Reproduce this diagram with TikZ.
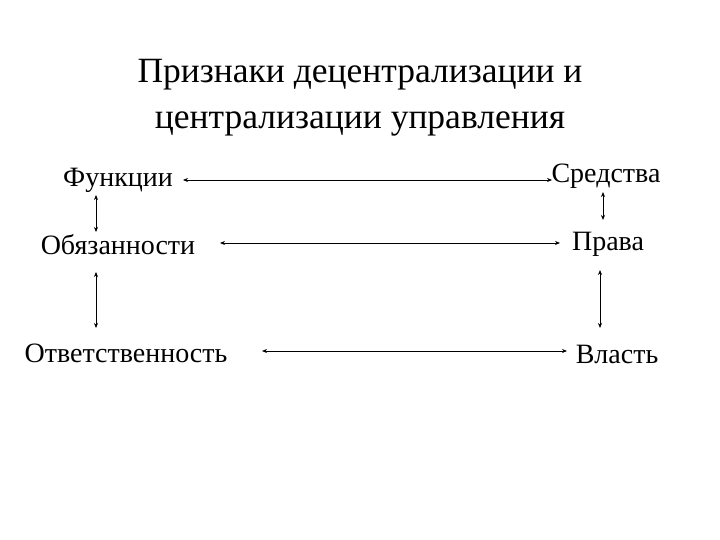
\documentclass[tikz,border=0pt]{standalone}
\usepackage{fontspec}
\setmainfont{Liberation Serif}
\usetikzlibrary{arrows.meta}
\begin{document}
\begin{tikzpicture}[x=1pt,y=-1pt,
  lbl/.style={font=\fontsize{28}{32}\selectfont,inner sep=2pt},
  conn/.style={{Stealth[length=5pt,width=4pt]}-{Stealth[length=5pt,width=4pt]},line width=0.8pt}]
\useasboundingbox[fill=white] (0,0) rectangle (720,540);
\node[font=\fontsize{35.5}{46}\selectfont,align=center] (title) at (360,98) {Признаки децентрализации и\\централизации управления};
\node[lbl] (f) at (118,180) {Функции};
\node[lbl] (s) at (606,176) {Средства};
\node[lbl] (o) at (118,245) {Обязанности};
\node[lbl] (p) at (608,244) {Права};
\node[lbl] (r) at (126,353) {Ответственность};
\node[lbl] (v) at (617,354) {Власть};
\coordinate (f1) at (183,180); \coordinate (s1) at (552,180);
\coordinate (o1) at (220,243); \coordinate (p1) at (560,243);
\coordinate (r1) at (262,351); \coordinate (v1) at (567,351);
\coordinate (l1) at (96,195); \coordinate (l2) at (96,232);
\coordinate (l3) at (96,272); \coordinate (l4) at (96,328);
\coordinate (q1) at (603,192); \coordinate (q2) at (603,220);
\coordinate (q3) at (600,270); \coordinate (q4) at (600,328);
\draw[conn] (f1) -- (s1);
\draw[conn] (o1) -- (p1);
\draw[conn] (r1) -- (v1);
\draw[conn] (l1) -- (l2);
\draw[conn] (l3) -- (l4);
\draw[conn] (q1) -- (q2);
\draw[conn] (q3) -- (q4);
\end{tikzpicture}
\end{document}
